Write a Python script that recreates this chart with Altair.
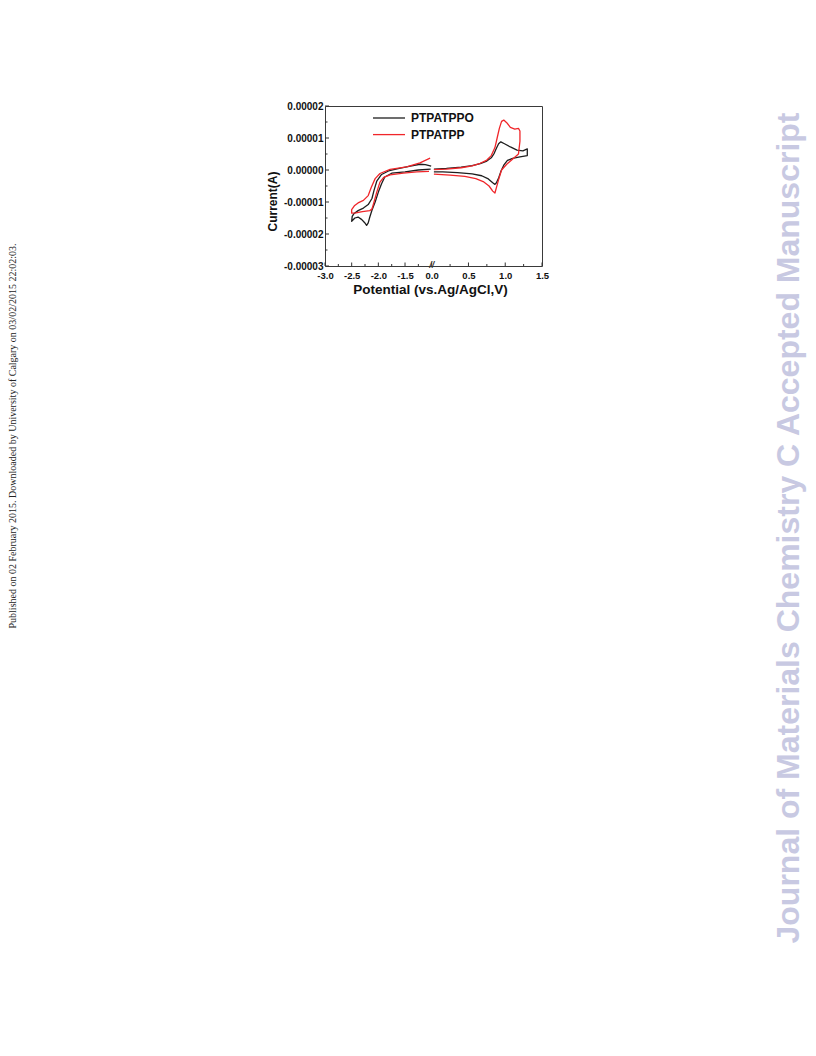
import altair as alt
import pandas as pd

SERIES = ["PTPATPPO", "PTPATPP"]
COLORS = ["#1e1e1e", "#f0262a"]

# Potentials in V (vs. Ag/AgCl), currents in µA.
# PTPATPPO, negative (reduction) sweep
ppo_neg_E = [-1.02, -1.25, -1.5, -1.75, -1.88, -1.94, -2.0, -2.06, -2.12, -2.16, -2.19,
             -2.22, -2.26, -2.31, -2.38, -2.44, -2.5, -2.49, -2.46, -2.38, -2.28, -2.19,
             -2.12, -2.08, -2.03, -1.94, -1.81, -1.63, -1.4, -1.22, -1.12, -1.01]
ppo_neg_I = [0.3, 0.0, -0.6, -1.0, -2.2, -4.3, -6.9, -10.0, -12.6, -14.7, -16.5,
             -17.3, -16.4, -15.5, -14.7, -15.0, -16.0, -14.5, -13.7, -12.7, -11.9, -10.8,
             -8.9, -6.3, -3.5, -1.4, -0.3, 0.4, 1.2, 1.8, 1.7, 1.2]

# PTPATPPO, positive (oxidation) sweep
ppo_pos_E = [0.03, 0.2, 0.4, 0.55, 0.66, 0.75, 0.81, 0.85, 0.88, 0.91, 0.94, 0.99, 1.07,
             1.16, 1.24, 1.3, 1.3, 1.2, 1.1, 1.03, 0.98, 0.94, 0.91, 0.88, 0.86, 0.83,
             0.77, 0.68, 0.55, 0.35, 0.15, 0.03]
ppo_pos_I = [0.3, 0.5, 0.9, 1.4, 2.0, 2.8, 3.8, 5.2, 6.8, 8.2, 8.8, 8.2, 7.2,
             6.2, 6.0, 6.6, 4.5, 4.1, 3.6, 3.0, 1.5, -0.5, -2.5, -4.0, -4.5, -4.0,
             -2.8, -1.8, -1.2, -0.8, -0.6, -0.6]

# PTPATPP, negative (reduction) sweep
pp_neg_E = [-1.05, -1.28, -1.53, -1.78, -1.9, -1.97, -2.03, -2.09, -2.12, -2.16, -2.3,
            -2.42, -2.5, -2.5, -2.45, -2.38, -2.28, -2.19, -2.13, -2.06, -1.97, -1.78,
            -1.47, -1.22, -1.03]
pp_neg_I = [-0.4, -0.6, -1.0, -1.5, -2.3, -3.8, -6.9, -10.5, -12.2, -12.7, -13.0,
            -13.4, -13.5, -12.4, -11.2, -10.3, -9.5, -8.0, -5.3, -2.7, -1.1, 0.2,
            1.0, 2.2, 3.7]

# PTPATPP, positive (oxidation) sweep
pp_pos_E = [0.03, 0.2, 0.4, 0.55, 0.66, 0.75, 0.81, 0.86, 0.89, 0.92, 0.95, 0.98, 1.02,
            1.07, 1.13, 1.18, 1.2, 1.2, 1.18, 1.11, 1.02, 0.95, 0.91, 0.88, 0.86, 0.83,
            0.78, 0.7, 0.6, 0.45, 0.25, 0.03]
pp_pos_I = [0.1, 0.3, 0.7, 1.3, 2.1, 3.1, 4.5, 7.0, 10.0, 13.0, 15.2, 15.6, 14.8,
            13.3, 12.8, 13.0, 12.2, 9.0, 5.0, 3.6, 1.8, 0.0, -3.0, -5.5, -7.2, -6.6,
            -5.0, -3.6, -2.7, -2.0, -1.6, -1.3]

# Axis ticks
x_major = [-3.0, -2.5, -2.0, -1.5, 0.0, 0.5, 1.0, 1.5]
x_minor = [-2.75, -2.25, -1.75, -1.25, 0.25, 0.75, 1.25]
y_major = [-3e-5, -2e-5, -1e-5, 0.0, 1e-5, 2e-5]
y_minor = [-2.5e-5, -1.5e-5, -0.5e-5, 0.5e-5, 1.5e-5]

rows = []
for name, seg, E, I in [
    (SERIES[0], "ppo_neg", ppo_neg_E, ppo_neg_I),
    (SERIES[0], "ppo_pos", ppo_pos_E, ppo_pos_I),
    (SERIES[1], "pp_neg", pp_neg_E, pp_neg_I),
    (SERIES[1], "pp_pos", pp_pos_E, pp_pos_I),
]:
    for k, (e, i) in enumerate(zip(E, I)):
        rows.append({"series": name, "seg": seg, "k": k, "E": e, "I": i * 1e-6})
cv = pd.DataFrame(rows)

W, H = 217, 160
FONT = "Liberation Sans"
MINUS = "\u2212"

# broken potential axis: -3.0..-1.0 on the left part, 0.0..1.5 on the right part
xscale = alt.Scale(domain=[-3.0, -1.0, 0.0, 1.5], range=[0, 106.7, 106.7, W],
                   nice=False, zero=False)
yscale = alt.Scale(domain=[-3e-5, 2e-5], nice=False, zero=False)
color = alt.Color("series:N", scale=alt.Scale(domain=SERIES, range=COLORS), legend=None)

x_axis = alt.Axis(values=x_major, ticks=False, domain=False, grid=False,
                  labelExpr=f"replace(format(datum.value, '.1f'), '{MINUS}', '-')",
                  labelFont=FONT, labelFontSize=9.5, labelFontWeight="bold",
                  labelColor="#111", labelPadding=4, labelFlush=False, labelOverlap=False,
                  title="Potential (vs.Ag/AgCl,V)", titleFont=FONT, titleFontSize=13.5,
                  titleFontWeight="bold", titleColor="#111", titleX=105, titleY=16,
                  titleBaseline="top")
y_axis = alt.Axis(values=y_major, ticks=False, domain=False, grid=False,
                  labelExpr=f"replace(format(datum.value, '.5f'), '{MINUS}', '-')",
                  labelFont=FONT, labelFontSize=10, labelFontWeight="bold",
                  labelColor="#111", labelPadding=2, labelFlush=False, labelOverlap=False,
                  title="Current(A)", titleFont=FONT, titleFontSize=12,
                  titleFontWeight="bold", titleColor="#111", titleX=-53, titleY=95,
                  titleBaseline="middle")

X = alt.X("E:Q", scale=xscale, axis=x_axis)
Y = alt.Y("I:Q", scale=yscale, axis=y_axis)

curves = alt.Chart(cv).mark_line(strokeWidth=1.3, strokeJoin="round").encode(
    x=X, y=Y, color=color, detail="seg:N", order="k:Q",
)

# inward-pointing ticks along the bottom and left frame
tick_color = "#333"
xt_major = alt.Chart(pd.DataFrame({"E": x_major})).mark_rule(color=tick_color).encode(
    x=X, y=alt.value(H), y2=alt.value(H - 3.5))
xt_minor = alt.Chart(pd.DataFrame({"E": x_minor})).mark_rule(color=tick_color).encode(
    x=X, y=alt.value(H), y2=alt.value(H - 2))
yt_major = alt.Chart(pd.DataFrame({"I": y_major})).mark_rule(color=tick_color).encode(
    y=Y, x=alt.value(0), x2=alt.value(4))
yt_minor = alt.Chart(pd.DataFrame({"I": y_minor})).mark_rule(color=tick_color).encode(
    y=Y, x=alt.value(0), x2=alt.value(2.5))

# axis break mark
brk = alt.Chart(pd.DataFrame({"E": [0.0], "s": ["//"]})).mark_text(
    font=FONT, fontSize=9, fontStyle="italic", fontWeight="bold", color="#333",
    baseline="middle", dy=-1
).encode(x=X, y=alt.value(H), text="s:N")

# legend
legend_layers = []
for i, (name, col) in enumerate(zip(SERIES, COLORS)):
    ly = 12 + i * 16.6
    src = alt.Chart(pd.DataFrame({"series": [name]}))
    legend_layers.append(src.mark_rule(color=col, strokeWidth=1.3).encode(
        x=alt.value(48), x2=alt.value(80), y=alt.value(ly)))
    legend_layers.append(src.mark_text(
        font=FONT, fontSize=12, fontWeight="bold", color="#111",
        align="left", baseline="middle").encode(
        x=alt.value(86), y=alt.value(ly), text="series:N"))

# page margin notes
notes = pd.DataFrame({"t": [
    "Published on 02 February 2015. Downloaded by University of Calgary on 03/02/2015 22:02:03.",
    "Journal of Materials Chemistry C Accepted Manuscript"]})
left_note = alt.Chart(notes.iloc[[0]]).mark_text(
    font="Liberation Serif", fontSize=10, color="#222", angle=270,
    align="center", baseline="middle").encode(
    x=alt.value(-312), y=alt.value(330), text="t:N")
right_note = alt.Chart(notes.iloc[[1]]).mark_text(
    font=FONT, fontSize=32, fontWeight="bold", color="#c8c9e2", angle=270,
    align="center", baseline="middle").encode(
    x=alt.value(464), y=alt.value(422), text="t:N")

chart = alt.layer(
    curves, xt_major, xt_minor, yt_major, yt_minor, brk, *legend_layers,
    left_note, right_note
).properties(
    width=W, height=H,
    padding={"left": 325, "top": 106, "right": 274, "bottom": 790},
    autosize=alt.AutoSizeParams(type="none"),
    background="white",
).configure_view(stroke="#3a3a3a", strokeWidth=1)

chart.save("out.html", embed_options={"renderer": "svg", "actions": False})
